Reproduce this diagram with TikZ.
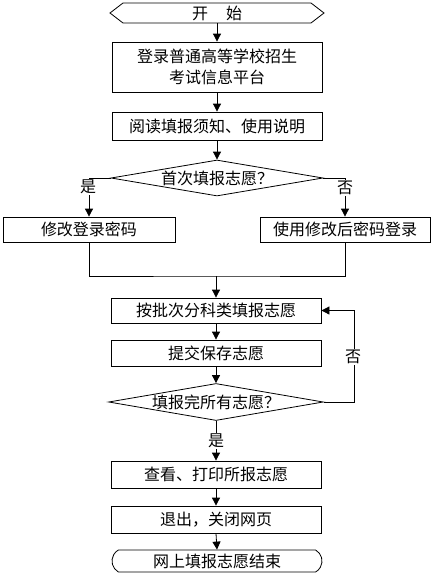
\documentclass[tikz,border=0pt]{standalone}
\usepackage{fontspec}
\newfontfamily\cjk{Noto Sans CJK SC}
\usetikzlibrary{shapes.geometric,shapes.misc,arrows.meta}
\begin{document}
\begin{tikzpicture}[x=1pt,y=-1pt,
  font=\cjk\fontsize{16}{21}\selectfont,
  line width=0.8pt,
  box/.style={draw, minimum width=210pt, inner sep=0pt, align=center},
  dec/.style={draw, diamond, aspect=5.8, inner sep=0pt, minimum width=212pt, minimum height=36pt},
  arr/.style={-{Triangle[length=8pt,width=8pt]}},
  lbl/.style={fill=white, inner sep=1pt}]
\useasboundingbox (0,0) rectangle (434,576);

% start
\node (start) at (217,13) {开\hspace{18pt}始};
\draw (110,13) -- (123,3) -- (311,3) -- (324,13) -- (311,23) -- (123,23) -- cycle;
\coordinate (startS) at (217,23);

\node[box, minimum height=50pt] (login) at (217,67) {登录普通高等学校招生\\考试信息平台};
\node[box, minimum height=28pt] (read) at (217,126) {阅读填报须知、使用说明};
\node[dec] (d1) at (217,178) {首次填报志愿？};
\node[box, minimum width=172pt, minimum height=25pt] (lbox) at (89,229.5) {修改登录密码};
\node[box, minimum width=170pt, minimum height=25pt] (rbox) at (345,229.5) {使用修改后密码登录};
\coordinate (m) at (216,276);
\node[box, minimum height=25pt] (fill) at (216,310.5) {按批次分科类填报志愿};
\node[box, minimum height=26pt] (submit) at (216,353) {提交保存志愿};
\node[dec] (d2) at (216,402) {填报完所有志愿？};
\node[box, minimum height=27pt] (view) at (216,474.5) {查看、打印所报志愿};
\node[box, minimum height=27pt] (exit) at (216,519.5) {退出，关闭网页};
\node[draw, rounded rectangle, rounded rectangle arc length=120, minimum width=210pt, minimum height=22pt, inner sep=0pt] (end) at (217,561) {网上填报志愿结束};

% connectors
\draw[arr] (startS) -- (login.north);
\draw[arr] (login.south) -- (read.north);
\draw[arr] (read.south) -- (d1.north);
\draw[arr] (d1.west) -| (lbox.north);
\draw[arr] (d1.east) -| (rbox.north);
\node[lbl] (yes1) at (88,187) {是};
\node[lbl] (no1) at (345,188) {否};
\draw (lbox.south) |- (m) -| (rbox.south);
\draw[arr] (m) -- (fill.north);
\draw[arr] (fill.south) -- (submit.north);
\draw[arr] (submit.south) -- (d2.north);
\draw[arr] (d2.east) -- ++(31,0) |- (fill.east);
\node[lbl] (no2) at (353,357) {否};
\draw[arr] (d2.south) -- (view.north) node[midway, lbl] (yes2) {是};
\draw[arr] (view.south) -- (exit.north);
\draw[arr] (exit.south) -- (end.north);
\end{tikzpicture}
\end{document}
